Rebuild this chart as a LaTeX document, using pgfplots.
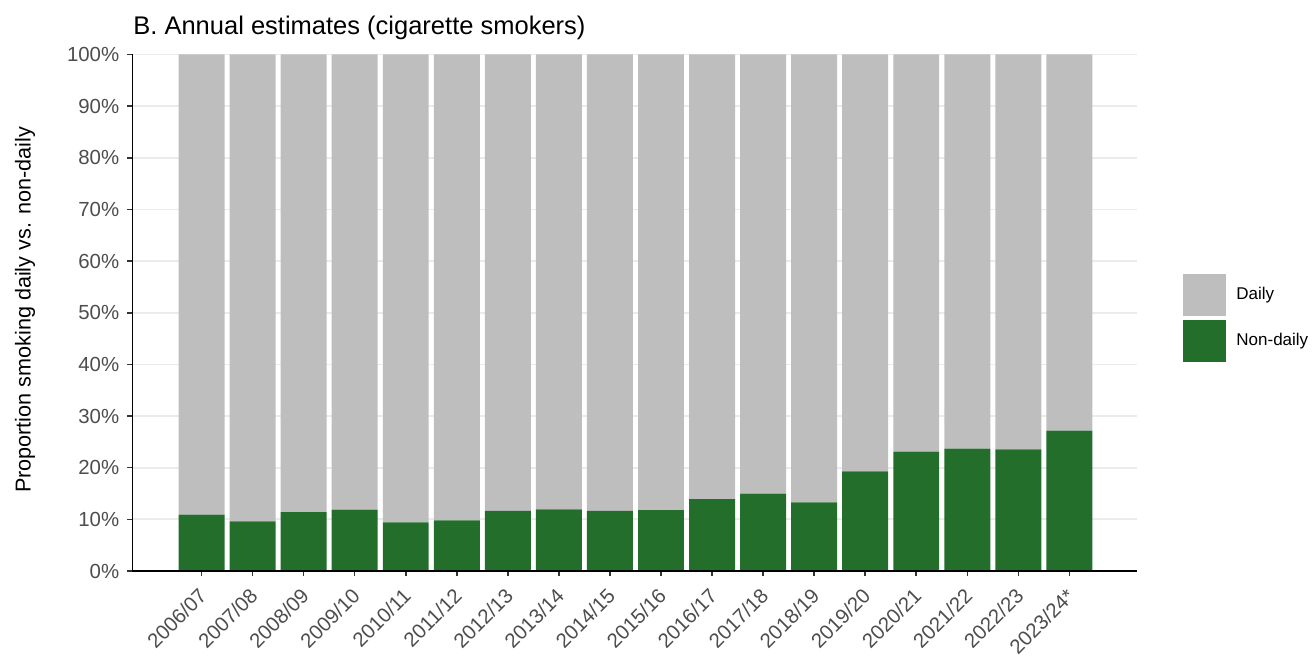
\documentclass[border=0pt]{standalone}
\usepackage{pgfplots}
\pgfplotsset{compat=1.18}
\usepackage{pgfplotstable}
\usepackage{fontspec}
\setmainfont{Liberation Sans}
\definecolor{dgreen}{HTML}{226E2A}
\definecolor{dgrey}{HTML}{BEBEBE}
\definecolor{gridc}{HTML}{EBEBEB}
\definecolor{ticklab}{HTML}{4D4D4D}

\pgfplotstableread{
x nondaily daily
0 10.9 89.1
1 9.6 90.4
2 11.4 88.6
3 11.9 88.1
4 9.4 90.6
5 9.8 90.2
6 11.65 88.35
7 11.95 88.05
8 11.65 88.35
9 11.8 88.2
10 13.9 86.1
11 15.0 85.0
12 13.3 86.7
13 19.3 80.7
14 23.1 76.9
15 23.7 76.3
16 23.55 76.45
17 27.2 72.8
}\datatab

\begin{document}
\begin{tikzpicture}
\begin{axis}[
  scale only axis, width=502.5pt, height=258.25pt,
  xmin=-1.356, xmax=18.33, ymin=0, ymax=100,
  ybar stacked, bar width=0.9,
  set layers, axis on top,
  axis lines*=left,
  x axis line style={line width=1.3pt, black},
  y axis line style={line width=0.7pt, black},
  xtick={0,...,17},
  xticklabels={2006/07,2007/08,2008/09,2009/10,2010/11,2011/12,2012/13,2013/14,2014/15,2015/16,2016/17,2017/18,2018/19,2019/20,2020/21,2021/22,2022/23,2023/24*},
  ytick={0,10,...,100},
  yticklabel={\pgfmathprintnumber{\tick}\%},
  /pgf/number format/assume math mode=true,
  ymajorgrids,
  major grid style={gridc, line width=0.85pt, /pgfplots/on layer=axis background},
  tick align=outside, major tick length=2.75pt,
  tick style={black!80, line width=0.8pt},
  ticklabel style={font=\fontsize{10.2}{12}\selectfont, text=ticklab},
  xticklabel style={xshift=-2pt, yshift=-3.7pt, rotate=45, anchor=north east, inner sep=1pt},
  yticklabel style={inner sep=3.6pt},
  legend cell align=left,
  legend style={at={(1.0455,0.575)}, anchor=north west, draw=none, fill=none,
    inner sep=0pt, outer sep=0pt, row sep=2pt,
    font=\fontsize{8.5}{10}\selectfont,
    /tikz/every odd column/.append style={column sep=3.4pt}},
  reverse legend,
  mylegend/.style={legend image code/.code={\fill[##1] (0pt,-10.5pt) rectangle (21.3pt,10.5pt);}},
]
\addplot[fill=dgreen, draw=none, mylegend] table[x=x,y=nondaily]{\datatab};
\addplot[fill=dgrey, draw=none, mylegend] table[x=x,y=daily]{\datatab};
\legend{Non-daily, Daily}
\end{axis}
\node[anchor=base west, inner sep=0pt, font=\fontsize{12.75}{15}\selectfont] at (0.35pt,268pt) {B. Annual estimates (cigarette smokers)};
\node[rotate=90, inner sep=0pt, font=\fontsize{10.8}{13}\selectfont] at (-53.65pt,130.5pt) {Proportion smoking daily vs. non-daily};
\pgfresetboundingbox
\useasboundingbox (-66.15pt,-48.5pt) rectangle (591.85pt,285.5pt);
\end{tikzpicture}
\end{document}
